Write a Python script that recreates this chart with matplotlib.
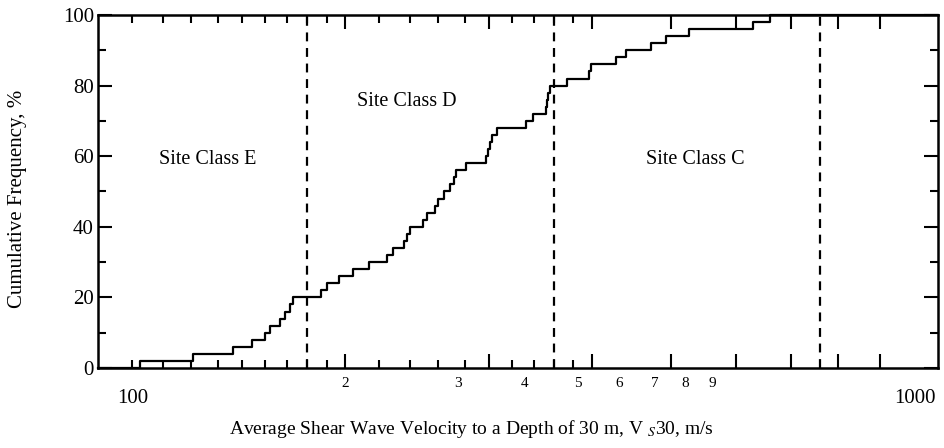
import numpy as np
import matplotlib.pyplot as plt
from matplotlib.ticker import FixedLocator, NullFormatter

plt.rcParams['font.family'] = ['Liberation Serif', 'DejaVu Serif']
plt.rcParams['mathtext.fontset'] = 'stix'

#%% Data
# Vs30 of each site (m/s), sorted - each one adds 2 % to the cumulative curve
vs30 = [112.5, 130.5, 146.0, 154.0, 160.0, 162.0, 166.7, 169.0, 171.5, 173.0,
        187.0, 190.5, 197.0, 204.5, 214.0, 225.0, 229.0, 236.4, 238.4, 240.0,
        249.0, 251.6, 257.6, 260.0, 264.5, 268.8, 272.0, 273.5, 281.0, 297.3,
        299.0, 300.5, 302.0, 306.4, 332.4, 339.6, 352.0, 353.0, 354.0, 356.0,
        373.5, 397.5, 399.0, 428.0, 440.0, 472.6, 492.8, 525.8, 629.7, 660.0]

# site class limits (m/s)
limites = [180, 360, 760]

classes = ['Site Class E', 'Site Class D', 'Site Class C']
classes_x = [136, 238, 535]
classes_y = [59, 75.5, 59]

x_major = [200, 300, 400, 500, 600, 700, 800, 900]
x_minor = [110, 120, 130, 140, 150, 160, 170, 180, 190,
           220, 240, 260, 280, 320, 340, 360, 380]

# tick labels of the x axis as printed in the original (they sit off the ticks)
x_lab = ['2', '3', '4', '5', '6', '7', '8', '9']
x_lab_pos = [0.294, 0.4286, 0.508, 0.571, 0.621, 0.663, 0.699, 0.731]
x_end_lab = ['100', '1000']
x_end_pos = [0.0417, 0.9726]

#%% Curve
n = len(vs30)
freq = np.arange(1, n + 1) / n * 100

xmax = 1058
xs = np.concatenate(([100], vs30, [xmax]))
ys = np.concatenate(([0], freq, [100]))

#%% Plot
fig = plt.figure(figsize=(9.45, 4.48), dpi=100)
ax = fig.add_axes([98/945, 80/448, 840/945, 353/448])

ax.plot(xs, ys, drawstyle='steps-post', color='black', lw=1.6, clip_on=False)

for v in limites:
    ax.axvline(v, color='black', lw=1.6, ls=(0, (4, 3)))

for t, x, y in zip(classes, classes_x, classes_y):
    ax.text(x, y, t, ha='center', va='center', fontsize=14.5)

ax.set_xscale('log')
ax.set_xlim(100, xmax)
ax.set_ylim(0, 100)

ax.xaxis.set_major_locator(FixedLocator(x_major))
ax.xaxis.set_major_formatter(NullFormatter())
ax.xaxis.set_minor_locator(FixedLocator(x_minor))
ax.xaxis.set_minor_formatter(NullFormatter())
ax.set_yticks(np.arange(0, 101, 20))
ax.set_yticks(np.arange(10, 100, 20), minor=True)

ax.tick_params(which='both', direction='in', top=True, right=True, width=1.5)
ax.tick_params(which='major', length=10)
ax.tick_params(which='minor', length=6)
ax.tick_params(axis='y', labelsize=15, pad=3)

for t, p in zip(x_lab, x_lab_pos):
    ax.text(p, -0.043, t, transform=ax.transAxes, ha='center', va='center', fontsize=11)
for t, p in zip(x_end_lab, x_end_pos):
    ax.text(p, -0.085, t, transform=ax.transAxes, ha='center', va='center', fontsize=15)

for s in ax.spines.values():
    s.set_linewidth(1.8)

ax.set_ylabel('Cumulative Frequency, %', fontsize=15)
ax.yaxis.set_label_coords(-0.085, 0.48)
ax.set_xlabel('Average Shear Wave Velocity to a Depth of 30 m, V $_S$30, m/s', fontsize=14)
ax.xaxis.set_label_coords(0.445, -0.142)

fig.savefig('out.png', dpi=100)
